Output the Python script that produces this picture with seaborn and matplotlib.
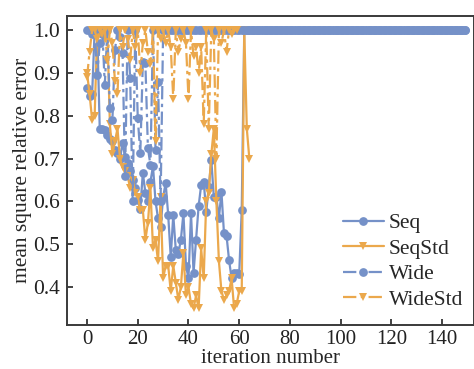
import numpy as np
import pandas as pd
import matplotlib
matplotlib.use("Agg")
import matplotlib.pyplot as plt
import seaborn as sns

series_names = ["Seq", "SeqStd", "Wide", "WideStd"]

seq_head = [0.865, 0.845, 0.85, 1.00, 1.00, 0.77, 0.77, 0.766, 0.755, 0.745,
            0.74, 0.72, 0.712, 0.699, 0.737, 0.704, 0.689, 0.671, 0.651, 0.632,
            0.604, 0.583, 0.667, 0.62, 0.60, 0.646, 0.682, 0.60, 0.56, 0.54,
            0.61, 0.643, 0.568, 0.47, 0.568, 0.486, 0.478, 0.51, 0.572, 0.45,
            0.42, 0.572, 0.433, 0.51, 0.589, 0.638, 0.646, 0.575, 0.634, 0.696,
            0.61, 0.61, 0.56, 0.622, 0.525, 0.52, 0.463, 0.42, 0.432, 0.432,
            0.43, 0.579]
seq = seq_head + [1.0] * (150 - len(seq_head))

seqstd = [0.90, 0.85, 0.79, 0.80, 1.00, 0.99, 1.00, 0.98, 1.00, 0.78,
          0.71, 0.74, 0.77, 0.70, 0.68, 0.67, 0.66, 0.63, 0.65, 0.62,
          0.61, 0.58, 0.58, 0.51, 0.55, 0.63, 0.49, 0.51, 0.46, 0.61,
          0.42, 0.45, 0.45, 0.39, 0.45, 0.41, 0.37, 0.40, 0.48, 0.38,
          0.40, 0.36, 0.35, 0.38, 0.35, 0.49, 0.42, 0.60, 0.62, 0.71,
          0.77, 0.60, 0.46, 0.39, 0.37, 0.38, 0.39, 0.42, 0.35, 0.36,
          0.39, 0.39, 1.00, 0.77, 0.70]

wide_head = [1.0, 1.0, 0.99, 1.0, 0.895, 0.969, 1.0, 0.872, 1.0, 0.817,
             0.79, 0.953, 1.0, 0.984, 0.946, 0.66, 1.0, 0.887, 0.60, 1.0,
             0.794, 0.712, 0.926, 0.923, 0.724, 0.685, 1.0, 0.72, 0.879, 0.60]
wide = wide_head + [1.0] * (150 - len(wide_head))

widestd = [0.89, 0.95, 1.00, 1.00, 0.98, 1.00, 0.99, 1.00, 0.93, 1.00,
           0.97, 0.88, 0.85, 1.00, 0.96, 1.00, 0.98, 0.93, 1.00, 0.96,
           1.00, 0.90, 0.97, 1.00, 0.95, 0.92, 1.00, 0.74, 1.00, 0.98,
           1.00, 0.97, 1.00, 0.96, 0.84, 1.00, 0.95, 0.98, 1.00, 0.97,
           0.84, 1.00, 0.94, 0.96, 0.90, 0.96, 0.78, 1.00, 0.77, 1.00,
           0.98, 0.70, 1.00, 0.97, 1.00, 0.95, 1.00, 0.99, 1.00, 1.00]

values = {"Seq": seq, "SeqStd": seqstd, "Wide": wide, "WideStd": widestd}
frames = []
for name in series_names:
    v = values[name]
    frames.append(pd.DataFrame({"iteration": np.arange(len(v)), "mse": v, "series": name}))
df = pd.concat(frames, ignore_index=True)

sns.set_theme(style="ticks")
plt.rcParams["font.family"] = ["Liberation Serif", "DejaVu Serif"]

blue = "#7591c8"
orange = "#eba84c"
palette = {"Seq": blue, "SeqStd": orange, "Wide": blue, "WideStd": orange}
dashes = {"Seq": "", "SeqStd": "", "Wide": (6, 2, 1.5, 2), "WideStd": (6, 2, 1.5, 2)}
markers = {"Seq": "o", "SeqStd": "v", "Wide": "o", "WideStd": "v"}

fig = plt.figure(figsize=(4.74, 3.69), dpi=100)
ax = fig.add_axes([0.1414, 0.1192, 0.8586, 0.8374])

sns.lineplot(data=df, x="iteration", y="mse", hue="series", style="series",
             hue_order=series_names, style_order=series_names,
             palette=palette, dashes=dashes, markers=markers,
             markersize=6.3, markeredgewidth=0, linewidth=1.6, ax=ax,
             estimator=None, sort=False)

ax.set_xlim(-7.9, 152.6)
ax.set_ylim(0.311, 1.033)
ax.set_xticks(np.arange(0, 141, 20))
ax.set_yticks([0.4, 0.5, 0.6, 0.7, 0.8, 0.9, 1.0])
ax.set_yticklabels(["0.4", "0.5", "0.6", "0.7", "0.8", "0.9", "1.0"])
ax.tick_params(direction="in", length=4, width=1.2, labelsize=15.5, colors="#222222",
               top=False, right=False)
ax.tick_params(axis="x", pad=3.5, labelsize=15)
ax.tick_params(axis="y", pad=5)
ax.set_xlabel("iteration number", fontsize=15, labelpad=0)
ax.set_ylabel("mean square relative error", fontsize=15.5, labelpad=1)
for s in ["left", "bottom", "top", "right"]:
    ax.spines[s].set_color("#3a3a3a")
    ax.spines[s].set_linewidth(1.4)

leg = ax.legend(loc="lower right", bbox_to_anchor=(0.995, 0.022), frameon=False,
                fontsize=15.5, labelspacing=0.25, handlelength=1.9, handletextpad=0.25,
                borderaxespad=0)

fig.savefig("out.png", dpi=100)
